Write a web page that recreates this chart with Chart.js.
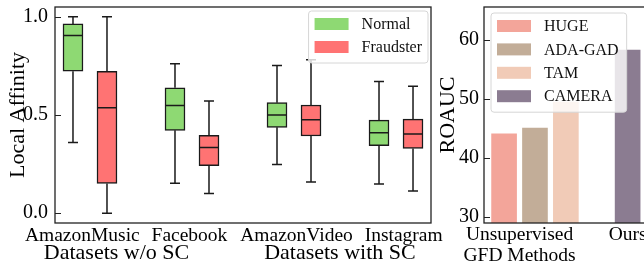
<!DOCTYPE html>
<html>
<head>
<meta charset="utf-8">
<script src="https://cdn.jsdelivr.net/npm/chart.js@4.4.1/dist/chart.umd.min.js"></script>
<style>
  html, body { margin: 0; padding: 0; background: #fff; }
  body { width: 644px; height: 268px; overflow: hidden; position: relative; }
  #affinityChart { position: absolute; left: 0; top: 0; }
  #roaucChart { position: absolute; left: 425px; top: 0; }
</style>
</head>
<body>
<canvas id="affinityChart" width="450" height="268"></canvas>
<canvas id="roaucChart" width="240" height="268"></canvas>
<script>
// Left panel: local affinity box plots
const datasetNames = ['AmazonMusic', 'Facebook', 'AmazonVideo', 'Instagram'];
const groupTitles = ['Datasets w/o SC', 'Datasets with SC'];
const classLabels = ['Normal', 'Fraudster'];
// each row: [min, q1, median, q3, max]
const normalStats = [
    [0.36, 0.723, 0.905, 0.964, 1.0],
    [0.153, 0.422, 0.549, 0.639, 0.761],
    [0.248, 0.437, 0.5, 0.563, 0.752],
    [0.149, 0.344, 0.41, 0.474, 0.671]
];
const fraudStats = [
    [0.0, 0.151, 0.537, 0.723, 1.0],
    [0.1, 0.242, 0.334, 0.397, 0.571],
    [0.159, 0.393, 0.476, 0.551, 0.781],
    [0.113, 0.33, 0.403, 0.479, 0.647]
];
const affinityTicks = [0.0, 0.5, 1.0];

// Right panel: ROAUC bars
const methodLabels = ['HUGE', 'ADA-GAD', 'TAM', 'CAMERA'];
const roaucValues = [44.1, 45.1, 49.5, 58.3];
const methodGroupOf = [0, 0, 0, 1];
const methodGroups = [['Unsupervised', 'GFD Methods'], 'Ours'];
const roaucTicks = [30, 40, 50, 60];

const FONT = "'Liberation Serif', 'Times New Roman', serif";
const BOX_OFFSET = 1 / 6;
const LABEL_SPREAD = 1.05;
const GROUP_TITLE_POS = [0.26, 2.45];
const GROUP_TICK_POS = [0.5, 4];

Chart.defaults.font.family = FONT;
Chart.defaults.color = '#000';

// whiskers, caps and median lines on top of the floating bars
const boxWhiskers = {
    id: 'boxWhiskers',
    afterDatasetsDraw(chart) {
        const ctx = chart.ctx;
        const y = chart.scales.y;
        ctx.save();
        ctx.strokeStyle = '#1a1a1a';
        ctx.lineWidth = 1.5;
        chart.data.datasets.forEach((ds, d) => {
            chart.getDatasetMeta(d).data.forEach((bar, i) => {
                const [lo, q1, med, q3, hi] = ds.stats[i];
                const x = bar.x, half = bar.width / 2;
                ctx.beginPath();
                ctx.moveTo(x, y.getPixelForValue(hi));
                ctx.lineTo(x, y.getPixelForValue(q3));
                ctx.moveTo(x, y.getPixelForValue(q1));
                ctx.lineTo(x, y.getPixelForValue(lo));
                ctx.moveTo(x - half / 2, y.getPixelForValue(hi));
                ctx.lineTo(x + half / 2, y.getPixelForValue(hi));
                ctx.moveTo(x - half / 2, y.getPixelForValue(lo));
                ctx.lineTo(x + half / 2, y.getPixelForValue(lo));
                ctx.moveTo(x - half, y.getPixelForValue(med));
                ctx.lineTo(x + half, y.getPixelForValue(med));
                ctx.stroke();
            });
        });
        ctx.restore();
    }
};

// full frame + inward y ticks (matplotlib look)
const frameTicks = {
    id: 'frameTicks',
    afterDraw(chart) {
        const ctx = chart.ctx, a = chart.chartArea, y = chart.scales.y;
        ctx.save();
        ctx.strokeStyle = '#222';
        ctx.lineWidth = 1.3;
        ctx.strokeRect(a.left, a.top, a.right - a.left, a.bottom - a.top);
        ctx.beginPath();
        y.ticks.forEach(t => {
            const py = Math.round(y.getPixelForValue(t.value)) + 0.5;
            ctx.moveTo(a.left, py);
            ctx.lineTo(a.left + 6, py);
        });
        ctx.lineWidth = 1;
        ctx.stroke();
        ctx.restore();
    }
};

function boxLegend(cfg) {
    return {
        id: 'boxLegend',
        afterDraw(chart) {
            const ctx = chart.ctx, a = chart.chartArea;
            const items = chart.data.datasets;
            ctx.save();
            ctx.font = '16px ' + FONT;
            const textW = Math.max(...items.map(d => ctx.measureText(d.label).width));
            const w = 6 + 34 + 13 + textW + cfg.padRight;
            const h = 7 + 12 + cfg.rowGap * (items.length - 1) + 10;
            const left = cfg.side === 'right' ? a.right - cfg.dx - w : a.left + cfg.dx;
            const top = a.top + cfg.dy;
            ctx.beginPath();
            ctx.roundRect(left, top, w, h, 3);
            ctx.fillStyle = 'rgba(255,255,255,0.8)';
            ctx.fill();
            ctx.strokeStyle = '#d6d6d6';
            ctx.lineWidth = 1;
            ctx.stroke();
            items.forEach((d, i) => {
                const cy = top + 13 + cfg.rowGap * i;
                ctx.fillStyle = d.backgroundColor;
                ctx.fillRect(left + 6, cy - 6, 34, 12);
                ctx.fillStyle = '#111';
                ctx.textBaseline = 'middle';
                ctx.fillText(d.label, left + 53, cy + 1);
            });
            ctx.restore();
        }
    };
}

const groupTitlePlugin = {
    id: 'groupTitles',
    afterDraw(chart) {
        const ctx = chart.ctx, x = chart.scales.x;
        ctx.save();
        ctx.font = '22px ' + FONT;
        ctx.fillStyle = '#000';
        ctx.textAlign = 'center';
        ctx.textBaseline = 'alphabetic';
        groupTitles.forEach((t, i) => {
            ctx.fillText(t, x.getPixelForValue(GROUP_TITLE_POS[i]), chart.chartArea.bottom + 36);
        });
        ctx.restore();
    }
};

function boxDataset(label, stats, color, side) {
    return {
        label: label,
        stats: stats,
        data: stats.map((s, i) => ({ x: i + side * BOX_OFFSET, y: [s[1], s[3]] })),
        backgroundColor: color,
        borderColor: '#1a1a1a',
        borderWidth: 1.5,
        borderSkipped: false,
        barThickness: 20,
        grouped: false
    };
}

new Chart(document.getElementById('affinityChart'), {
    type: 'bar',
    data: {
        datasets: [
            boxDataset(classLabels[0], normalStats, '#8ed973', -1),
            boxDataset(classLabels[1], fraudStats, '#ff7373', 1)
        ]
    },
    options: {
        responsive: false,
        animation: false,
        layout: { autoPadding: false, padding: { top: 7, right: 19, left: 0, bottom: 0 } },
        plugins: { legend: { display: false }, tooltip: { enabled: false } },
        scales: {
            x: {
                type: 'linear',
                offset: false,
                min: -0.343,
                max: 3.343,
                border: { display: false },
                grid: { display: false, drawTicks: false },
                afterBuildTicks: s => {
                    s.ticks = datasetNames.map((n, i) => ({ value: 1.5 + (i - 1.5) * LABEL_SPREAD }));
                },
                afterFit: s => { s.height = 45; s.paddingLeft = 0; s.paddingRight = 0; },
                ticks: {
                    autoSkip: false,
                    maxRotation: 0,
                    padding: 1,
                    font: { size: 19.5 },
                    callback: (v, i) => datasetNames[i]
                }
            },
            y: {
                min: -0.05,
                max: 1.05,
                border: { display: false },
                grid: { display: false, drawTicks: false },
                afterBuildTicks: s => { s.ticks = affinityTicks.map(v => ({ value: v })); },
                afterFit: s => { s.width = 55; s.paddingTop = 0; s.paddingBottom = 0; },
                ticks: { padding: 7, font: { size: 20 }, callback: v => v.toFixed(1) },
                title: { display: true, text: 'Local Affinity', font: { size: 22 }, padding: { top: 5, bottom: 0 } }
            }
        }
    },
    plugins: [boxWhiskers, frameTicks, groupTitlePlugin,
        boxLegend({ side: 'right', dx: 3, dy: 4, padRight: 6, rowGap: 23 })]
});

const methodColors = ['#f3a59a', '#c2ad98', '#f1cbb7', '#8b7c91'];

new Chart(document.getElementById('roaucChart'), {
    type: 'bar',
    data: {
        datasets: methodLabels.map((m, i) => ({
            label: m,
            data: [{ x: i + methodGroupOf[i], y: roaucValues[i] }],
            backgroundColor: methodColors[i],
            borderWidth: 0,
            barThickness: 25,
            grouped: false
        }))
    },
    options: {
        responsive: false,
        animation: false,
        layout: { autoPadding: false, padding: { top: 7, right: 17.3, left: 0, bottom: 0 } },
        plugins: { legend: { display: false }, tooltip: { enabled: false } },
        scales: {
            x: {
                type: 'linear',
                offset: false,
                min: -0.65,
                max: 4.65,
                border: { display: false },
                grid: { display: false, drawTicks: false },
                afterBuildTicks: s => { s.ticks = GROUP_TICK_POS.map(v => ({ value: v })); },
                afterFit: s => { s.height = 45; s.paddingLeft = 0; s.paddingRight = 0; },
                ticks: {
                    autoSkip: false,
                    maxRotation: 0,
                    padding: 1,
                    font: { size: 19.5, lineHeight: 1.1 },
                    callback: (v, i) => methodGroups[i]
                }
            },
            y: {
                min: 29,
                max: 65.6,
                border: { display: false },
                grid: { display: false, drawTicks: false },
                afterBuildTicks: s => { s.ticks = roaucTicks.map(v => ({ value: v })); },
                afterFit: s => { s.width = 59; s.paddingTop = 0; s.paddingBottom = 0; },
                ticks: { padding: 5, font: { size: 20 }, callback: v => String(v) },
                title: { display: true, text: 'ROAUC', font: { size: 22 }, padding: { top: 10, bottom: 0 } }
            }
        }
    },
    plugins: [frameTicks, boxLegend({ side: 'left', dx: 7, dy: 6, padRight: 8, rowGap: 23.4 })]
});
</script>
</body>
</html>
